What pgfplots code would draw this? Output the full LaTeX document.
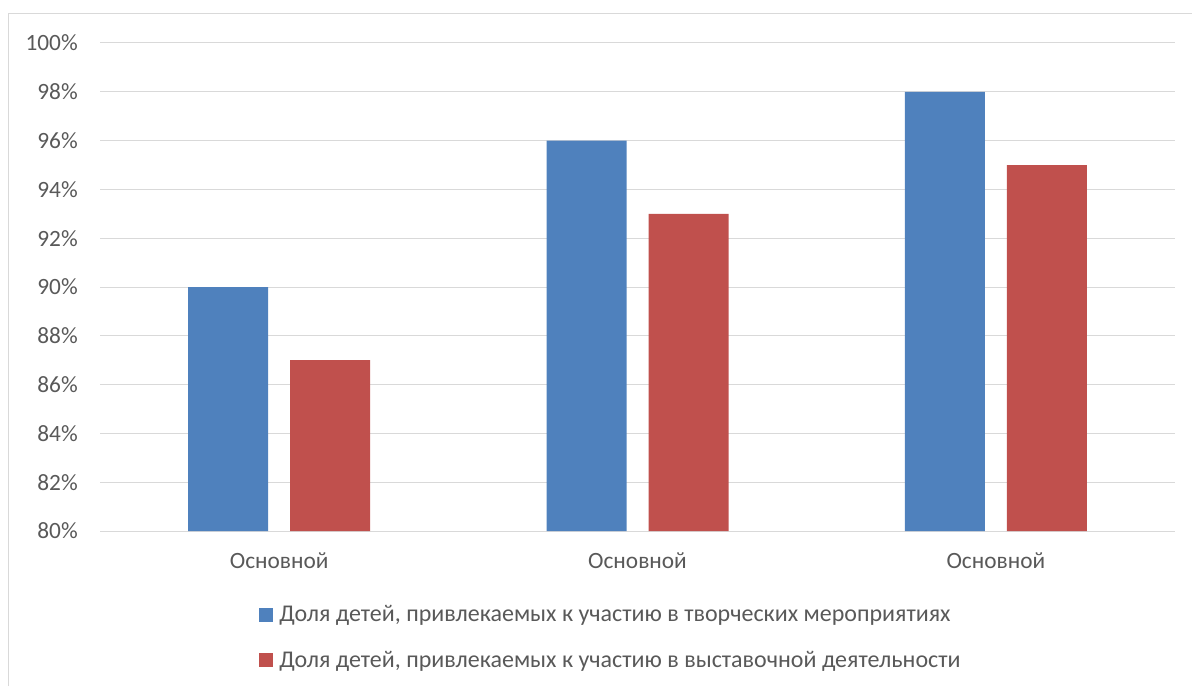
\documentclass[border=0pt]{standalone}
\usepackage{pgfplots}
\pgfplotsset{compat=1.18}
\usepackage{fontspec}
\setmainfont{Carlito}
\definecolor{cblue}{HTML}{4F81BD}
\definecolor{cred}{HTML}{C0504D}
\definecolor{ctext}{HTML}{595959}
\definecolor{cgrid}{HTML}{D9D9D9}
\begin{document}
\begin{tikzpicture}[x=1pt,y=1pt]
\useasboundingbox (0,0) rectangle (894,514.5);
\draw[cgrid, line width=0.75pt] (6,0) -- (6,504) -- (894,504);
\begin{axis}[
  at={(75pt,116.25pt)}, anchor=south west,
  scale only axis, width=806.25pt, height=366pt,
  xmin=-0.5, xmax=2.5, ymin=80, ymax=100,
  ybar, bar width=60pt,
  xtick={0,1,2}, xticklabels={Основной,Основной,Основной},
  ytick={80,82,...,100},
  yticklabel={\pgfmathprintnumber{\tick}\%},
  /pgf/number format/assume math mode=true,
  ymajorgrids, grid style={cgrid, line width=0.75pt},
  axis line style={draw=none}, tick style={draw=none},
  tick label style={font=\fontsize{17.5pt}{21pt}\selectfont, text=ctext},
  yticklabel style={anchor=east, inner sep=0pt, xshift=-16.5pt},
  xticklabel style={anchor=north, inner sep=0pt, yshift=-12pt},
  legend style={at={(0.148,-0.147)}, anchor=north west, draw=none, fill=none,
    font=\fontsize{18pt}{21pt}\selectfont, text=ctext, row sep=16.5pt, inner sep=0pt,
    /tikz/every odd column/.append style={column sep=2.5pt}},
  legend cell align=left,
  legend image code/.code={\fill[#1] (0pt,-5.25pt) rectangle (10.5pt,5.25pt);},
]
\addplot[fill=cblue, draw=none, bar shift=-38.25pt] coordinates {(0,90) (1,96) (2,98)};
\addlegendentry{Доля детей, привлекаемых к участию в творческих мероприятиях}
\addplot[fill=cred, draw=none, bar shift=38.25pt] coordinates {(0,87) (1,93) (2,95)};
\addlegendentry{Доля детей, привлекаемых к участию в выставочной деятельности}
\end{axis}
\end{tikzpicture}
\end{document}
